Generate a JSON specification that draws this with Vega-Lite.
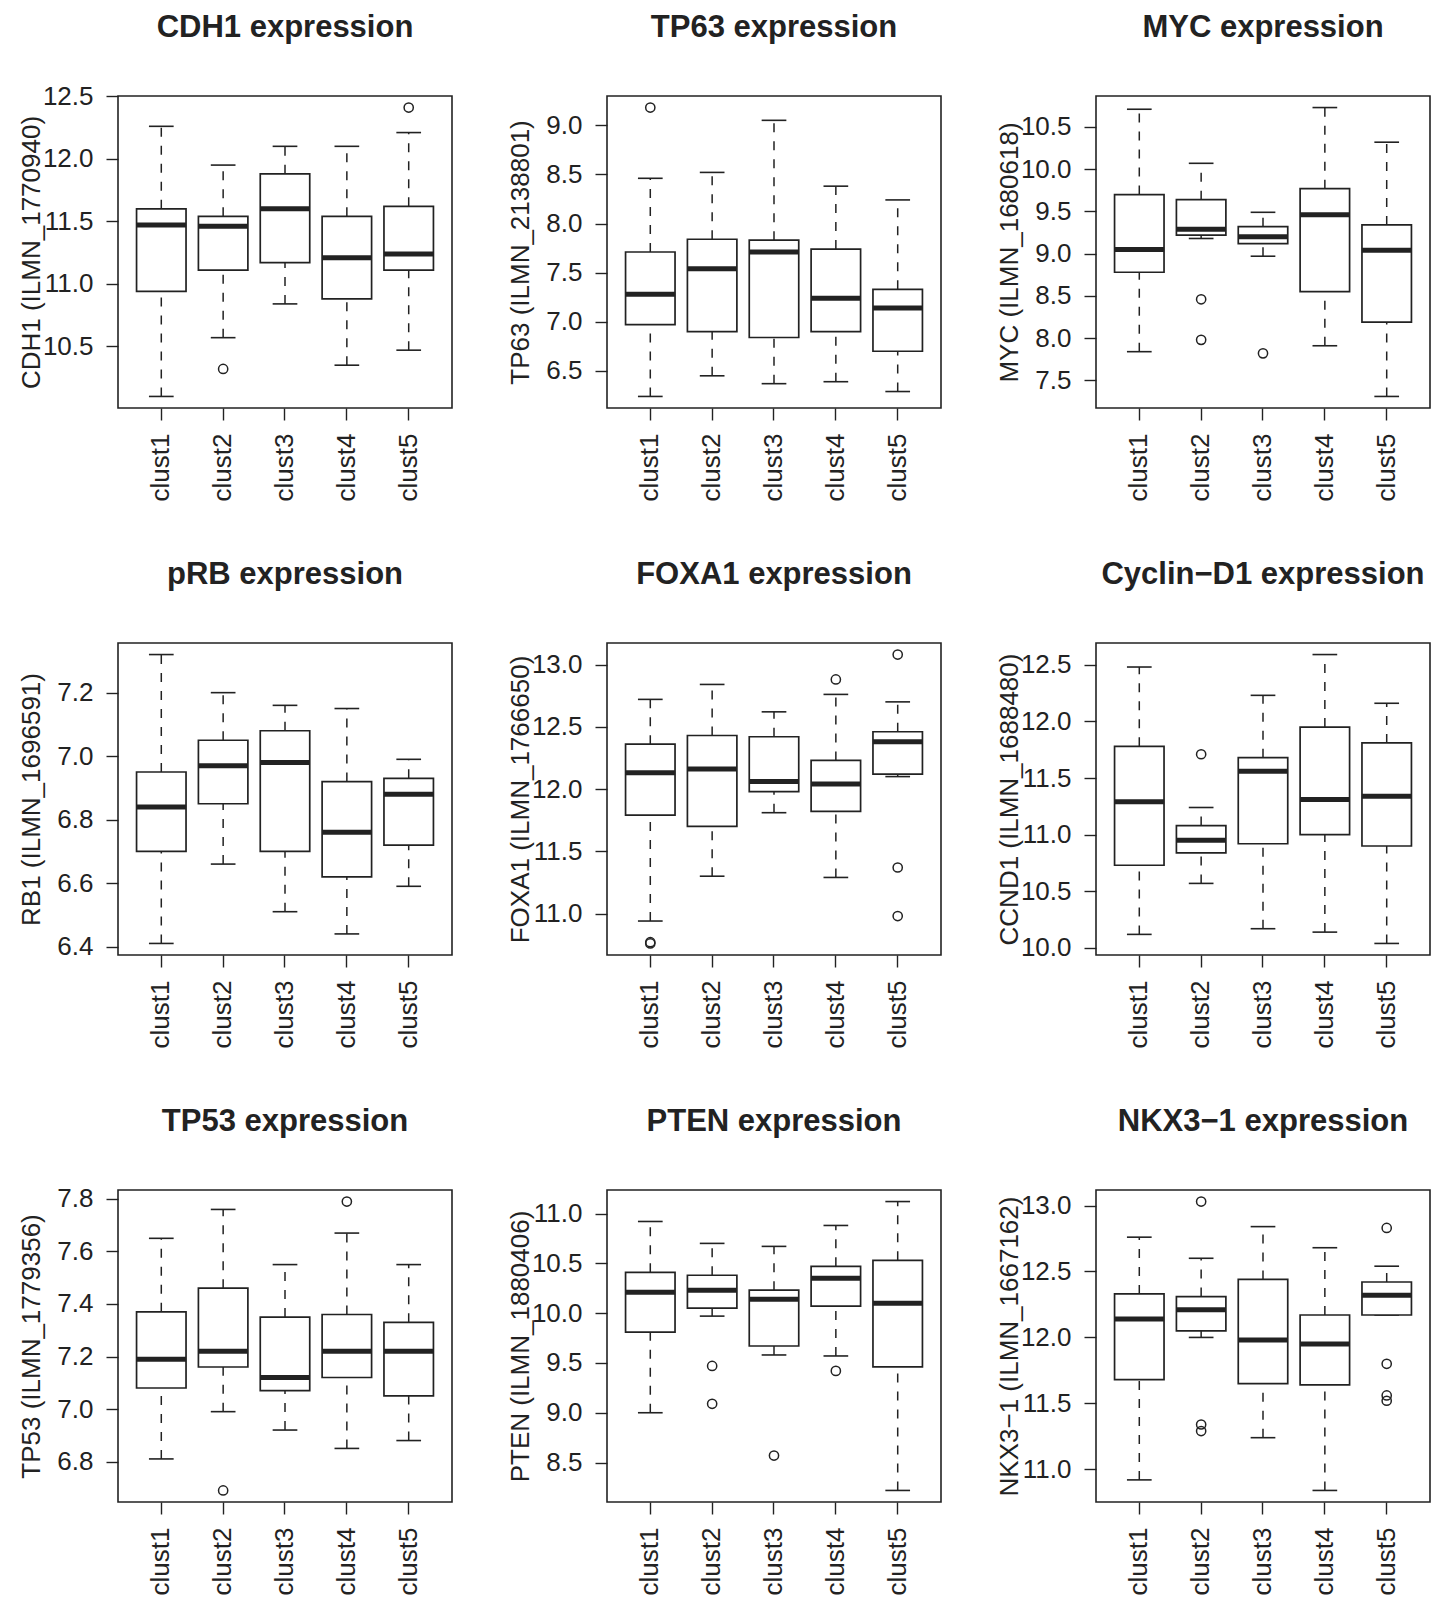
{
  "$schema": "https://vega.github.io/schema/vega-lite/v6.json",
  "background": "white",
  "padding": {"left": 17, "top": 11, "right": 5, "bottom": 0},
  "datasets": {
    "boxes": [
      {"gene": "CDH1", "cluster": "clust1", "lo": 10.10, "q1": 10.94, "med": 11.47, "q3": 11.60, "hi": 12.26},
      {"gene": "CDH1", "cluster": "clust2", "lo": 10.57, "q1": 11.11, "med": 11.46, "q3": 11.54, "hi": 11.95},
      {"gene": "CDH1", "cluster": "clust3", "lo": 10.84, "q1": 11.17, "med": 11.60, "q3": 11.88, "hi": 12.10},
      {"gene": "CDH1", "cluster": "clust4", "lo": 10.35, "q1": 10.88, "med": 11.21, "q3": 11.54, "hi": 12.10},
      {"gene": "CDH1", "cluster": "clust5", "lo": 10.47, "q1": 11.11, "med": 11.24, "q3": 11.62, "hi": 12.21},
      {"gene": "TP63", "cluster": "clust1", "lo": 6.24, "q1": 6.97, "med": 7.28, "q3": 7.71, "hi": 8.46},
      {"gene": "TP63", "cluster": "clust2", "lo": 6.45, "q1": 6.90, "med": 7.54, "q3": 7.84, "hi": 8.52},
      {"gene": "TP63", "cluster": "clust3", "lo": 6.37, "q1": 6.84, "med": 7.71, "q3": 7.83, "hi": 9.05},
      {"gene": "TP63", "cluster": "clust4", "lo": 6.39, "q1": 6.90, "med": 7.24, "q3": 7.74, "hi": 8.38},
      {"gene": "TP63", "cluster": "clust5", "lo": 6.29, "q1": 6.70, "med": 7.14, "q3": 7.33, "hi": 8.24},
      {"gene": "MYC", "cluster": "clust1", "lo": 7.84, "q1": 8.78, "med": 9.05, "q3": 9.70, "hi": 10.71},
      {"gene": "MYC", "cluster": "clust2", "lo": 9.18, "q1": 9.22, "med": 9.29, "q3": 9.64, "hi": 10.07},
      {"gene": "MYC", "cluster": "clust3", "lo": 8.97, "q1": 9.12, "med": 9.20, "q3": 9.32, "hi": 9.49},
      {"gene": "MYC", "cluster": "clust4", "lo": 7.91, "q1": 8.55, "med": 9.46, "q3": 9.77, "hi": 10.73},
      {"gene": "MYC", "cluster": "clust5", "lo": 7.31, "q1": 8.19, "med": 9.04, "q3": 9.34, "hi": 10.32},
      {"gene": "RB1", "cluster": "clust1", "lo": 6.41, "q1": 6.70, "med": 6.84, "q3": 6.95, "hi": 7.32},
      {"gene": "RB1", "cluster": "clust2", "lo": 6.66, "q1": 6.85, "med": 6.97, "q3": 7.05, "hi": 7.20},
      {"gene": "RB1", "cluster": "clust3", "lo": 6.51, "q1": 6.70, "med": 6.98, "q3": 7.08, "hi": 7.16},
      {"gene": "RB1", "cluster": "clust4", "lo": 6.44, "q1": 6.62, "med": 6.76, "q3": 6.92, "hi": 7.15},
      {"gene": "RB1", "cluster": "clust5", "lo": 6.59, "q1": 6.72, "med": 6.88, "q3": 6.93, "hi": 6.99},
      {"gene": "FOXA1", "cluster": "clust1", "lo": 10.94, "q1": 11.79, "med": 12.13, "q3": 12.36, "hi": 12.72},
      {"gene": "FOXA1", "cluster": "clust2", "lo": 11.30, "q1": 11.70, "med": 12.16, "q3": 12.43, "hi": 12.84},
      {"gene": "FOXA1", "cluster": "clust3", "lo": 11.81, "q1": 11.98, "med": 12.06, "q3": 12.42, "hi": 12.62},
      {"gene": "FOXA1", "cluster": "clust4", "lo": 11.29, "q1": 11.82, "med": 12.04, "q3": 12.23, "hi": 12.76},
      {"gene": "FOXA1", "cluster": "clust5", "lo": 12.10, "q1": 12.12, "med": 12.38, "q3": 12.46, "hi": 12.70},
      {"gene": "CCND1", "cluster": "clust1", "lo": 10.12, "q1": 10.73, "med": 11.29, "q3": 11.78, "hi": 12.48},
      {"gene": "CCND1", "cluster": "clust2", "lo": 10.57, "q1": 10.84, "med": 10.95, "q3": 11.08, "hi": 11.24},
      {"gene": "CCND1", "cluster": "clust3", "lo": 10.17, "q1": 10.92, "med": 11.56, "q3": 11.68, "hi": 12.23},
      {"gene": "CCND1", "cluster": "clust4", "lo": 10.14, "q1": 11.00, "med": 11.31, "q3": 11.95, "hi": 12.59},
      {"gene": "CCND1", "cluster": "clust5", "lo": 10.04, "q1": 10.90, "med": 11.34, "q3": 11.81, "hi": 12.16},
      {"gene": "TP53", "cluster": "clust1", "lo": 6.81, "q1": 7.08, "med": 7.19, "q3": 7.37, "hi": 7.65},
      {"gene": "TP53", "cluster": "clust2", "lo": 6.99, "q1": 7.16, "med": 7.22, "q3": 7.46, "hi": 7.76},
      {"gene": "TP53", "cluster": "clust3", "lo": 6.92, "q1": 7.07, "med": 7.12, "q3": 7.35, "hi": 7.55},
      {"gene": "TP53", "cluster": "clust4", "lo": 6.85, "q1": 7.12, "med": 7.22, "q3": 7.36, "hi": 7.67},
      {"gene": "TP53", "cluster": "clust5", "lo": 6.88, "q1": 7.05, "med": 7.22, "q3": 7.33, "hi": 7.55},
      {"gene": "PTEN", "cluster": "clust1", "lo": 9.00, "q1": 9.81, "med": 10.21, "q3": 10.41, "hi": 10.92},
      {"gene": "PTEN", "cluster": "clust2", "lo": 9.97, "q1": 10.05, "med": 10.23, "q3": 10.38, "hi": 10.70},
      {"gene": "PTEN", "cluster": "clust3", "lo": 9.58, "q1": 9.67, "med": 10.14, "q3": 10.23, "hi": 10.67},
      {"gene": "PTEN", "cluster": "clust4", "lo": 9.57, "q1": 10.07, "med": 10.35, "q3": 10.47, "hi": 10.88},
      {"gene": "PTEN", "cluster": "clust5", "lo": 8.22, "q1": 9.46, "med": 10.10, "q3": 10.53, "hi": 11.12},
      {"gene": "NKX3-1", "cluster": "clust1", "lo": 10.92, "q1": 11.68, "med": 12.14, "q3": 12.33, "hi": 12.76},
      {"gene": "NKX3-1", "cluster": "clust2", "lo": 12.00, "q1": 12.05, "med": 12.21, "q3": 12.31, "hi": 12.60},
      {"gene": "NKX3-1", "cluster": "clust3", "lo": 11.24, "q1": 11.65, "med": 11.98, "q3": 12.44, "hi": 12.84},
      {"gene": "NKX3-1", "cluster": "clust4", "lo": 10.84, "q1": 11.64, "med": 11.95, "q3": 12.17, "hi": 12.68},
      {"gene": "NKX3-1", "cluster": "clust5", "lo": 12.17, "q1": 12.17, "med": 12.32, "q3": 12.42, "hi": 12.54}
    ],
    "outliers": [
      {"gene": "CDH1", "cluster": "clust2", "value": 10.32},
      {"gene": "CDH1", "cluster": "clust5", "value": 12.41},
      {"gene": "TP63", "cluster": "clust1", "value": 9.18},
      {"gene": "MYC", "cluster": "clust2", "value": 8.46},
      {"gene": "MYC", "cluster": "clust2", "value": 7.98},
      {"gene": "MYC", "cluster": "clust3", "value": 7.82},
      {"gene": "FOXA1", "cluster": "clust1", "value": 10.77},
      {"gene": "FOXA1", "cluster": "clust1", "value": 10.76},
      {"gene": "FOXA1", "cluster": "clust4", "value": 12.88},
      {"gene": "FOXA1", "cluster": "clust5", "value": 13.08},
      {"gene": "FOXA1", "cluster": "clust5", "value": 11.37},
      {"gene": "FOXA1", "cluster": "clust5", "value": 10.98},
      {"gene": "CCND1", "cluster": "clust2", "value": 11.71},
      {"gene": "TP53", "cluster": "clust2", "value": 6.69},
      {"gene": "TP53", "cluster": "clust4", "value": 7.79},
      {"gene": "PTEN", "cluster": "clust2", "value": 9.47},
      {"gene": "PTEN", "cluster": "clust2", "value": 9.09},
      {"gene": "PTEN", "cluster": "clust3", "value": 8.57},
      {"gene": "PTEN", "cluster": "clust4", "value": 9.42},
      {"gene": "NKX3-1", "cluster": "clust2", "value": 13.03},
      {"gene": "NKX3-1", "cluster": "clust2", "value": 11.34},
      {"gene": "NKX3-1", "cluster": "clust2", "value": 11.29},
      {"gene": "NKX3-1", "cluster": "clust5", "value": 12.83},
      {"gene": "NKX3-1", "cluster": "clust5", "value": 11.80},
      {"gene": "NKX3-1", "cluster": "clust5", "value": 11.56},
      {"gene": "NKX3-1", "cluster": "clust5", "value": 11.52}
    ]
  },
  "columns": 3,
  "spacing": {"row": 56, "column": 53},
  "concat": [
    {
      "title": {"text": "CDH1 expression", "offset": 39},
      "width": 334, "height": 312,
      "data": {"name": "boxes"},
      "transform": [{"filter": "datum.gene === 'CDH1'"}],
      "encoding": {"x": {"field": "cluster", "type": "nominal", "scale": {"type": "band", "domain": ["clust1", "clust2", "clust3", "clust4", "clust5"], "paddingInner": 0.2, "paddingOuter": 0.3}, "axis": {"title": null}}},
      "layer": [
        {"mark": {"type": "rule", "strokeDash": [9, 9], "strokeWidth": 1.5, "color": "#222"},
         "encoding": {"y": {"field": "lo", "type": "quantitative", "scale": {"zero": false, "nice": false, "padding": 11.556}, "axis": {"title": "CDH1 (ILMN_1770940)", "values": [10.5, 11, 11.5, 12, 12.5], "format": ".1f"}}, "y2": {"field": "q1"}}},
        {"mark": {"type": "rule", "strokeDash": [9, 9], "strokeWidth": 1.5, "color": "#222"},
         "encoding": {"y": {"field": "q3", "type": "quantitative", "scale": {"zero": false, "nice": false, "padding": 11.556}, "axis": {"title": "CDH1 (ILMN_1770940)", "values": [10.5, 11, 11.5, 12, 12.5], "format": ".1f"}}, "y2": {"field": "hi"}}},
        {"transform": [{"fold": ["lo", "hi"], "as": ["end", "val"]}],
         "mark": {"type": "tick", "size": 24.7, "thickness": 1.6, "color": "#222", "opacity": 1},
         "encoding": {"y": {"field": "val", "type": "quantitative", "scale": {"zero": false, "nice": false, "padding": 11.556}, "axis": {"title": "CDH1 (ILMN_1770940)", "values": [10.5, 11, 11.5, 12, 12.5], "format": ".1f"}}}},
        {"mark": {"type": "bar", "fill": "white", "stroke": "#222", "strokeWidth": 1.7, "opacity": 1},
         "encoding": {"y": {"field": "q1", "type": "quantitative", "scale": {"zero": false, "nice": false, "padding": 11.556}, "axis": {"title": "CDH1 (ILMN_1770940)", "values": [10.5, 11, 11.5, 12, 12.5], "format": ".1f"}}, "y2": {"field": "q3"}}},
        {"mark": {"type": "tick", "size": 49.5, "thickness": 5, "color": "#222", "opacity": 1},
         "encoding": {"y": {"field": "med", "type": "quantitative", "scale": {"zero": false, "nice": false, "padding": 11.556}, "axis": {"title": "CDH1 (ILMN_1770940)", "values": [10.5, 11, 11.5, 12, 12.5], "format": ".1f"}}}},
        {"data": {"name": "outliers"}, "transform": [{"filter": "datum.gene === 'CDH1'"}],
         "mark": {"type": "point", "shape": "circle", "filled": false, "size": 85, "strokeWidth": 1.5, "color": "#222", "opacity": 1},
         "encoding": {"y": {"field": "value", "type": "quantitative", "scale": {"zero": false, "nice": false, "padding": 11.556}, "axis": {"title": "CDH1 (ILMN_1770940)", "values": [10.5, 11, 11.5, 12, 12.5], "format": ".1f"}}}}
      ]
    },
    {
      "title": {"text": "TP63 expression", "offset": 52},
      "width": 334, "height": 312,
      "data": {"name": "boxes"},
      "transform": [{"filter": "datum.gene === 'TP63'"}],
      "encoding": {"x": {"field": "cluster", "type": "nominal", "scale": {"type": "band", "domain": ["clust1", "clust2", "clust3", "clust4", "clust5"], "paddingInner": 0.2, "paddingOuter": 0.3}, "axis": {"title": null}}},
      "layer": [
        {"mark": {"type": "rule", "strokeDash": [9, 9], "strokeWidth": 1.5, "color": "#222"},
         "encoding": {"y": {"field": "lo", "type": "quantitative", "scale": {"zero": false, "nice": false, "padding": 11.556}, "axis": {"title": "TP63 (ILMN_2138801)", "values": [6.5, 7, 7.5, 8, 8.5, 9], "format": ".1f"}}, "y2": {"field": "q1"}}},
        {"mark": {"type": "rule", "strokeDash": [9, 9], "strokeWidth": 1.5, "color": "#222"},
         "encoding": {"y": {"field": "q3", "type": "quantitative", "scale": {"zero": false, "nice": false, "padding": 11.556}, "axis": {"title": "TP63 (ILMN_2138801)", "values": [6.5, 7, 7.5, 8, 8.5, 9], "format": ".1f"}}, "y2": {"field": "hi"}}},
        {"transform": [{"fold": ["lo", "hi"], "as": ["end", "val"]}],
         "mark": {"type": "tick", "size": 24.7, "thickness": 1.6, "color": "#222", "opacity": 1},
         "encoding": {"y": {"field": "val", "type": "quantitative", "scale": {"zero": false, "nice": false, "padding": 11.556}, "axis": {"title": "TP63 (ILMN_2138801)", "values": [6.5, 7, 7.5, 8, 8.5, 9], "format": ".1f"}}}},
        {"mark": {"type": "bar", "fill": "white", "stroke": "#222", "strokeWidth": 1.7, "opacity": 1},
         "encoding": {"y": {"field": "q1", "type": "quantitative", "scale": {"zero": false, "nice": false, "padding": 11.556}, "axis": {"title": "TP63 (ILMN_2138801)", "values": [6.5, 7, 7.5, 8, 8.5, 9], "format": ".1f"}}, "y2": {"field": "q3"}}},
        {"mark": {"type": "tick", "size": 49.5, "thickness": 5, "color": "#222", "opacity": 1},
         "encoding": {"y": {"field": "med", "type": "quantitative", "scale": {"zero": false, "nice": false, "padding": 11.556}, "axis": {"title": "TP63 (ILMN_2138801)", "values": [6.5, 7, 7.5, 8, 8.5, 9], "format": ".1f"}}}},
        {"data": {"name": "outliers"}, "transform": [{"filter": "datum.gene === 'TP63'"}],
         "mark": {"type": "point", "shape": "circle", "filled": false, "size": 85, "strokeWidth": 1.5, "color": "#222", "opacity": 1},
         "encoding": {"y": {"field": "value", "type": "quantitative", "scale": {"zero": false, "nice": false, "padding": 11.556}, "axis": {"title": "TP63 (ILMN_2138801)", "values": [6.5, 7, 7.5, 8, 8.5, 9], "format": ".1f"}}}}
      ]
    },
    {
      "title": {"text": "MYC expression", "offset": 52},
      "width": 334, "height": 312,
      "data": {"name": "boxes"},
      "transform": [{"filter": "datum.gene === 'MYC'"}],
      "encoding": {"x": {"field": "cluster", "type": "nominal", "scale": {"type": "band", "domain": ["clust1", "clust2", "clust3", "clust4", "clust5"], "paddingInner": 0.2, "paddingOuter": 0.3}, "axis": {"title": null}}},
      "layer": [
        {"mark": {"type": "rule", "strokeDash": [9, 9], "strokeWidth": 1.5, "color": "#222"},
         "encoding": {"y": {"field": "lo", "type": "quantitative", "scale": {"zero": false, "nice": false, "padding": 11.556}, "axis": {"title": "MYC (ILMN_1680618)", "values": [7.5, 8, 8.5, 9, 9.5, 10, 10.5], "format": ".1f"}}, "y2": {"field": "q1"}}},
        {"mark": {"type": "rule", "strokeDash": [9, 9], "strokeWidth": 1.5, "color": "#222"},
         "encoding": {"y": {"field": "q3", "type": "quantitative", "scale": {"zero": false, "nice": false, "padding": 11.556}, "axis": {"title": "MYC (ILMN_1680618)", "values": [7.5, 8, 8.5, 9, 9.5, 10, 10.5], "format": ".1f"}}, "y2": {"field": "hi"}}},
        {"transform": [{"fold": ["lo", "hi"], "as": ["end", "val"]}],
         "mark": {"type": "tick", "size": 24.7, "thickness": 1.6, "color": "#222", "opacity": 1},
         "encoding": {"y": {"field": "val", "type": "quantitative", "scale": {"zero": false, "nice": false, "padding": 11.556}, "axis": {"title": "MYC (ILMN_1680618)", "values": [7.5, 8, 8.5, 9, 9.5, 10, 10.5], "format": ".1f"}}}},
        {"mark": {"type": "bar", "fill": "white", "stroke": "#222", "strokeWidth": 1.7, "opacity": 1},
         "encoding": {"y": {"field": "q1", "type": "quantitative", "scale": {"zero": false, "nice": false, "padding": 11.556}, "axis": {"title": "MYC (ILMN_1680618)", "values": [7.5, 8, 8.5, 9, 9.5, 10, 10.5], "format": ".1f"}}, "y2": {"field": "q3"}}},
        {"mark": {"type": "tick", "size": 49.5, "thickness": 5, "color": "#222", "opacity": 1},
         "encoding": {"y": {"field": "med", "type": "quantitative", "scale": {"zero": false, "nice": false, "padding": 11.556}, "axis": {"title": "MYC (ILMN_1680618)", "values": [7.5, 8, 8.5, 9, 9.5, 10, 10.5], "format": ".1f"}}}},
        {"data": {"name": "outliers"}, "transform": [{"filter": "datum.gene === 'MYC'"}],
         "mark": {"type": "point", "shape": "circle", "filled": false, "size": 85, "strokeWidth": 1.5, "color": "#222", "opacity": 1},
         "encoding": {"y": {"field": "value", "type": "quantitative", "scale": {"zero": false, "nice": false, "padding": 11.556}, "axis": {"title": "MYC (ILMN_1680618)", "values": [7.5, 8, 8.5, 9, 9.5, 10, 10.5], "format": ".1f"}}}}
      ]
    },
    {
      "title": {"text": "pRB expression", "offset": 52},
      "width": 334, "height": 312,
      "data": {"name": "boxes"},
      "transform": [{"filter": "datum.gene === 'RB1'"}],
      "encoding": {"x": {"field": "cluster", "type": "nominal", "scale": {"type": "band", "domain": ["clust1", "clust2", "clust3", "clust4", "clust5"], "paddingInner": 0.2, "paddingOuter": 0.3}, "axis": {"title": null}}},
      "layer": [
        {"mark": {"type": "rule", "strokeDash": [9, 9], "strokeWidth": 1.5, "color": "#222"},
         "encoding": {"y": {"field": "lo", "type": "quantitative", "scale": {"zero": false, "nice": false, "padding": 11.556}, "axis": {"title": "RB1 (ILMN_1696591)", "values": [6.4, 6.6, 6.8, 7, 7.2], "format": ".1f"}}, "y2": {"field": "q1"}}},
        {"mark": {"type": "rule", "strokeDash": [9, 9], "strokeWidth": 1.5, "color": "#222"},
         "encoding": {"y": {"field": "q3", "type": "quantitative", "scale": {"zero": false, "nice": false, "padding": 11.556}, "axis": {"title": "RB1 (ILMN_1696591)", "values": [6.4, 6.6, 6.8, 7, 7.2], "format": ".1f"}}, "y2": {"field": "hi"}}},
        {"transform": [{"fold": ["lo", "hi"], "as": ["end", "val"]}],
         "mark": {"type": "tick", "size": 24.7, "thickness": 1.6, "color": "#222", "opacity": 1},
         "encoding": {"y": {"field": "val", "type": "quantitative", "scale": {"zero": false, "nice": false, "padding": 11.556}, "axis": {"title": "RB1 (ILMN_1696591)", "values": [6.4, 6.6, 6.8, 7, 7.2], "format": ".1f"}}}},
        {"mark": {"type": "bar", "fill": "white", "stroke": "#222", "strokeWidth": 1.7, "opacity": 1},
         "encoding": {"y": {"field": "q1", "type": "quantitative", "scale": {"zero": false, "nice": false, "padding": 11.556}, "axis": {"title": "RB1 (ILMN_1696591)", "values": [6.4, 6.6, 6.8, 7, 7.2], "format": ".1f"}}, "y2": {"field": "q3"}}},
        {"mark": {"type": "tick", "size": 49.5, "thickness": 5, "color": "#222", "opacity": 1},
         "encoding": {"y": {"field": "med", "type": "quantitative", "scale": {"zero": false, "nice": false, "padding": 11.556}, "axis": {"title": "RB1 (ILMN_1696591)", "values": [6.4, 6.6, 6.8, 7, 7.2], "format": ".1f"}}}}
      ]
    },
    {
      "title": {"text": "FOXA1 expression", "offset": 52},
      "width": 334, "height": 312,
      "data": {"name": "boxes"},
      "transform": [{"filter": "datum.gene === 'FOXA1'"}],
      "encoding": {"x": {"field": "cluster", "type": "nominal", "scale": {"type": "band", "domain": ["clust1", "clust2", "clust3", "clust4", "clust5"], "paddingInner": 0.2, "paddingOuter": 0.3}, "axis": {"title": null}}},
      "layer": [
        {"mark": {"type": "rule", "strokeDash": [9, 9], "strokeWidth": 1.5, "color": "#222"},
         "encoding": {"y": {"field": "lo", "type": "quantitative", "scale": {"zero": false, "nice": false, "padding": 11.556}, "axis": {"title": "FOXA1 (ILMN_1766650)", "values": [11, 11.5, 12, 12.5, 13], "format": ".1f"}}, "y2": {"field": "q1"}}},
        {"mark": {"type": "rule", "strokeDash": [9, 9], "strokeWidth": 1.5, "color": "#222"},
         "encoding": {"y": {"field": "q3", "type": "quantitative", "scale": {"zero": false, "nice": false, "padding": 11.556}, "axis": {"title": "FOXA1 (ILMN_1766650)", "values": [11, 11.5, 12, 12.5, 13], "format": ".1f"}}, "y2": {"field": "hi"}}},
        {"transform": [{"fold": ["lo", "hi"], "as": ["end", "val"]}],
         "mark": {"type": "tick", "size": 24.7, "thickness": 1.6, "color": "#222", "opacity": 1},
         "encoding": {"y": {"field": "val", "type": "quantitative", "scale": {"zero": false, "nice": false, "padding": 11.556}, "axis": {"title": "FOXA1 (ILMN_1766650)", "values": [11, 11.5, 12, 12.5, 13], "format": ".1f"}}}},
        {"mark": {"type": "bar", "fill": "white", "stroke": "#222", "strokeWidth": 1.7, "opacity": 1},
         "encoding": {"y": {"field": "q1", "type": "quantitative", "scale": {"zero": false, "nice": false, "padding": 11.556}, "axis": {"title": "FOXA1 (ILMN_1766650)", "values": [11, 11.5, 12, 12.5, 13], "format": ".1f"}}, "y2": {"field": "q3"}}},
        {"mark": {"type": "tick", "size": 49.5, "thickness": 5, "color": "#222", "opacity": 1},
         "encoding": {"y": {"field": "med", "type": "quantitative", "scale": {"zero": false, "nice": false, "padding": 11.556}, "axis": {"title": "FOXA1 (ILMN_1766650)", "values": [11, 11.5, 12, 12.5, 13], "format": ".1f"}}}},
        {"data": {"name": "outliers"}, "transform": [{"filter": "datum.gene === 'FOXA1'"}],
         "mark": {"type": "point", "shape": "circle", "filled": false, "size": 85, "strokeWidth": 1.5, "color": "#222", "opacity": 1},
         "encoding": {"y": {"field": "value", "type": "quantitative", "scale": {"zero": false, "nice": false, "padding": 11.556}, "axis": {"title": "FOXA1 (ILMN_1766650)", "values": [11, 11.5, 12, 12.5, 13], "format": ".1f"}}}}
      ]
    },
    {
      "title": {"text": "Cyclin−D1 expression", "offset": 52},
      "width": 334, "height": 312,
      "data": {"name": "boxes"},
      "transform": [{"filter": "datum.gene === 'CCND1'"}],
      "encoding": {"x": {"field": "cluster", "type": "nominal", "scale": {"type": "band", "domain": ["clust1", "clust2", "clust3", "clust4", "clust5"], "paddingInner": 0.2, "paddingOuter": 0.3}, "axis": {"title": null}}},
      "layer": [
        {"mark": {"type": "rule", "strokeDash": [9, 9], "strokeWidth": 1.5, "color": "#222"},
         "encoding": {"y": {"field": "lo", "type": "quantitative", "scale": {"zero": false, "nice": false, "padding": 11.556}, "axis": {"title": "CCND1 (ILMN_1688480)", "values": [10, 10.5, 11, 11.5, 12, 12.5], "format": ".1f"}}, "y2": {"field": "q1"}}},
        {"mark": {"type": "rule", "strokeDash": [9, 9], "strokeWidth": 1.5, "color": "#222"},
         "encoding": {"y": {"field": "q3", "type": "quantitative", "scale": {"zero": false, "nice": false, "padding": 11.556}, "axis": {"title": "CCND1 (ILMN_1688480)", "values": [10, 10.5, 11, 11.5, 12, 12.5], "format": ".1f"}}, "y2": {"field": "hi"}}},
        {"transform": [{"fold": ["lo", "hi"], "as": ["end", "val"]}],
         "mark": {"type": "tick", "size": 24.7, "thickness": 1.6, "color": "#222", "opacity": 1},
         "encoding": {"y": {"field": "val", "type": "quantitative", "scale": {"zero": false, "nice": false, "padding": 11.556}, "axis": {"title": "CCND1 (ILMN_1688480)", "values": [10, 10.5, 11, 11.5, 12, 12.5], "format": ".1f"}}}},
        {"mark": {"type": "bar", "fill": "white", "stroke": "#222", "strokeWidth": 1.7, "opacity": 1},
         "encoding": {"y": {"field": "q1", "type": "quantitative", "scale": {"zero": false, "nice": false, "padding": 11.556}, "axis": {"title": "CCND1 (ILMN_1688480)", "values": [10, 10.5, 11, 11.5, 12, 12.5], "format": ".1f"}}, "y2": {"field": "q3"}}},
        {"mark": {"type": "tick", "size": 49.5, "thickness": 5, "color": "#222", "opacity": 1},
         "encoding": {"y": {"field": "med", "type": "quantitative", "scale": {"zero": false, "nice": false, "padding": 11.556}, "axis": {"title": "CCND1 (ILMN_1688480)", "values": [10, 10.5, 11, 11.5, 12, 12.5], "format": ".1f"}}}},
        {"data": {"name": "outliers"}, "transform": [{"filter": "datum.gene === 'CCND1'"}],
         "mark": {"type": "point", "shape": "circle", "filled": false, "size": 85, "strokeWidth": 1.5, "color": "#222", "opacity": 1},
         "encoding": {"y": {"field": "value", "type": "quantitative", "scale": {"zero": false, "nice": false, "padding": 11.556}, "axis": {"title": "CCND1 (ILMN_1688480)", "values": [10, 10.5, 11, 11.5, 12, 12.5], "format": ".1f"}}}}
      ]
    },
    {
      "title": {"text": "TP53 expression", "offset": 48},
      "width": 334, "height": 312,
      "data": {"name": "boxes"},
      "transform": [{"filter": "datum.gene === 'TP53'"}],
      "encoding": {"x": {"field": "cluster", "type": "nominal", "scale": {"type": "band", "domain": ["clust1", "clust2", "clust3", "clust4", "clust5"], "paddingInner": 0.2, "paddingOuter": 0.3}, "axis": {"title": null}}},
      "layer": [
        {"mark": {"type": "rule", "strokeDash": [9, 9], "strokeWidth": 1.5, "color": "#222"},
         "encoding": {"y": {"field": "lo", "type": "quantitative", "scale": {"zero": false, "nice": false, "padding": 11.556}, "axis": {"title": "TP53 (ILMN_1779356)", "values": [6.8, 7, 7.2, 7.4, 7.6, 7.8], "format": ".1f"}}, "y2": {"field": "q1"}}},
        {"mark": {"type": "rule", "strokeDash": [9, 9], "strokeWidth": 1.5, "color": "#222"},
         "encoding": {"y": {"field": "q3", "type": "quantitative", "scale": {"zero": false, "nice": false, "padding": 11.556}, "axis": {"title": "TP53 (ILMN_1779356)", "values": [6.8, 7, 7.2, 7.4, 7.6, 7.8], "format": ".1f"}}, "y2": {"field": "hi"}}},
        {"transform": [{"fold": ["lo", "hi"], "as": ["end", "val"]}],
         "mark": {"type": "tick", "size": 24.7, "thickness": 1.6, "color": "#222", "opacity": 1},
         "encoding": {"y": {"field": "val", "type": "quantitative", "scale": {"zero": false, "nice": false, "padding": 11.556}, "axis": {"title": "TP53 (ILMN_1779356)", "values": [6.8, 7, 7.2, 7.4, 7.6, 7.8], "format": ".1f"}}}},
        {"mark": {"type": "bar", "fill": "white", "stroke": "#222", "strokeWidth": 1.7, "opacity": 1},
         "encoding": {"y": {"field": "q1", "type": "quantitative", "scale": {"zero": false, "nice": false, "padding": 11.556}, "axis": {"title": "TP53 (ILMN_1779356)", "values": [6.8, 7, 7.2, 7.4, 7.6, 7.8], "format": ".1f"}}, "y2": {"field": "q3"}}},
        {"mark": {"type": "tick", "size": 49.5, "thickness": 5, "color": "#222", "opacity": 1},
         "encoding": {"y": {"field": "med", "type": "quantitative", "scale": {"zero": false, "nice": false, "padding": 11.556}, "axis": {"title": "TP53 (ILMN_1779356)", "values": [6.8, 7, 7.2, 7.4, 7.6, 7.8], "format": ".1f"}}}},
        {"data": {"name": "outliers"}, "transform": [{"filter": "datum.gene === 'TP53'"}],
         "mark": {"type": "point", "shape": "circle", "filled": false, "size": 85, "strokeWidth": 1.5, "color": "#222", "opacity": 1},
         "encoding": {"y": {"field": "value", "type": "quantitative", "scale": {"zero": false, "nice": false, "padding": 11.556}, "axis": {"title": "TP53 (ILMN_1779356)", "values": [6.8, 7, 7.2, 7.4, 7.6, 7.8], "format": ".1f"}}}}
      ]
    },
    {
      "title": {"text": "PTEN expression", "offset": 52},
      "width": 334, "height": 312,
      "data": {"name": "boxes"},
      "transform": [{"filter": "datum.gene === 'PTEN'"}],
      "encoding": {"x": {"field": "cluster", "type": "nominal", "scale": {"type": "band", "domain": ["clust1", "clust2", "clust3", "clust4", "clust5"], "paddingInner": 0.2, "paddingOuter": 0.3}, "axis": {"title": null}}},
      "layer": [
        {"mark": {"type": "rule", "strokeDash": [9, 9], "strokeWidth": 1.5, "color": "#222"},
         "encoding": {"y": {"field": "lo", "type": "quantitative", "scale": {"zero": false, "nice": false, "padding": 11.556}, "axis": {"title": "PTEN (ILMN_1880406)", "values": [8.5, 9, 9.5, 10, 10.5, 11], "format": ".1f"}}, "y2": {"field": "q1"}}},
        {"mark": {"type": "rule", "strokeDash": [9, 9], "strokeWidth": 1.5, "color": "#222"},
         "encoding": {"y": {"field": "q3", "type": "quantitative", "scale": {"zero": false, "nice": false, "padding": 11.556}, "axis": {"title": "PTEN (ILMN_1880406)", "values": [8.5, 9, 9.5, 10, 10.5, 11], "format": ".1f"}}, "y2": {"field": "hi"}}},
        {"transform": [{"fold": ["lo", "hi"], "as": ["end", "val"]}],
         "mark": {"type": "tick", "size": 24.7, "thickness": 1.6, "color": "#222", "opacity": 1},
         "encoding": {"y": {"field": "val", "type": "quantitative", "scale": {"zero": false, "nice": false, "padding": 11.556}, "axis": {"title": "PTEN (ILMN_1880406)", "values": [8.5, 9, 9.5, 10, 10.5, 11], "format": ".1f"}}}},
        {"mark": {"type": "bar", "fill": "white", "stroke": "#222", "strokeWidth": 1.7, "opacity": 1},
         "encoding": {"y": {"field": "q1", "type": "quantitative", "scale": {"zero": false, "nice": false, "padding": 11.556}, "axis": {"title": "PTEN (ILMN_1880406)", "values": [8.5, 9, 9.5, 10, 10.5, 11], "format": ".1f"}}, "y2": {"field": "q3"}}},
        {"mark": {"type": "tick", "size": 49.5, "thickness": 5, "color": "#222", "opacity": 1},
         "encoding": {"y": {"field": "med", "type": "quantitative", "scale": {"zero": false, "nice": false, "padding": 11.556}, "axis": {"title": "PTEN (ILMN_1880406)", "values": [8.5, 9, 9.5, 10, 10.5, 11], "format": ".1f"}}}},
        {"data": {"name": "outliers"}, "transform": [{"filter": "datum.gene === 'PTEN'"}],
         "mark": {"type": "point", "shape": "circle", "filled": false, "size": 85, "strokeWidth": 1.5, "color": "#222", "opacity": 1},
         "encoding": {"y": {"field": "value", "type": "quantitative", "scale": {"zero": false, "nice": false, "padding": 11.556}, "axis": {"title": "PTEN (ILMN_1880406)", "values": [8.5, 9, 9.5, 10, 10.5, 11], "format": ".1f"}}}}
      ]
    },
    {
      "title": {"text": "NKX3−1 expression", "offset": 52},
      "width": 334, "height": 312,
      "data": {"name": "boxes"},
      "transform": [{"filter": "datum.gene === 'NKX3-1'"}],
      "encoding": {"x": {"field": "cluster", "type": "nominal", "scale": {"type": "band", "domain": ["clust1", "clust2", "clust3", "clust4", "clust5"], "paddingInner": 0.2, "paddingOuter": 0.3}, "axis": {"title": null}}},
      "layer": [
        {"mark": {"type": "rule", "strokeDash": [9, 9], "strokeWidth": 1.5, "color": "#222"},
         "encoding": {"y": {"field": "lo", "type": "quantitative", "scale": {"zero": false, "nice": false, "padding": 11.556}, "axis": {"title": "NKX3−1 (ILMN_1667162)", "values": [11, 11.5, 12, 12.5, 13], "format": ".1f"}}, "y2": {"field": "q1"}}},
        {"mark": {"type": "rule", "strokeDash": [9, 9], "strokeWidth": 1.5, "color": "#222"},
         "encoding": {"y": {"field": "q3", "type": "quantitative", "scale": {"zero": false, "nice": false, "padding": 11.556}, "axis": {"title": "NKX3−1 (ILMN_1667162)", "values": [11, 11.5, 12, 12.5, 13], "format": ".1f"}}, "y2": {"field": "hi"}}},
        {"transform": [{"fold": ["lo", "hi"], "as": ["end", "val"]}],
         "mark": {"type": "tick", "size": 24.7, "thickness": 1.6, "color": "#222", "opacity": 1},
         "encoding": {"y": {"field": "val", "type": "quantitative", "scale": {"zero": false, "nice": false, "padding": 11.556}, "axis": {"title": "NKX3−1 (ILMN_1667162)", "values": [11, 11.5, 12, 12.5, 13], "format": ".1f"}}}},
        {"mark": {"type": "bar", "fill": "white", "stroke": "#222", "strokeWidth": 1.7, "opacity": 1},
         "encoding": {"y": {"field": "q1", "type": "quantitative", "scale": {"zero": false, "nice": false, "padding": 11.556}, "axis": {"title": "NKX3−1 (ILMN_1667162)", "values": [11, 11.5, 12, 12.5, 13], "format": ".1f"}}, "y2": {"field": "q3"}}},
        {"mark": {"type": "tick", "size": 49.5, "thickness": 5, "color": "#222", "opacity": 1},
         "encoding": {"y": {"field": "med", "type": "quantitative", "scale": {"zero": false, "nice": false, "padding": 11.556}, "axis": {"title": "NKX3−1 (ILMN_1667162)", "values": [11, 11.5, 12, 12.5, 13], "format": ".1f"}}}},
        {"data": {"name": "outliers"}, "transform": [{"filter": "datum.gene === 'NKX3-1'"}],
         "mark": {"type": "point", "shape": "circle", "filled": false, "size": 85, "strokeWidth": 1.5, "color": "#222", "opacity": 1},
         "encoding": {"y": {"field": "value", "type": "quantitative", "scale": {"zero": false, "nice": false, "padding": 11.556}, "axis": {"title": "NKX3−1 (ILMN_1667162)", "values": [11, 11.5, 12, 12.5, 13], "format": ".1f"}}}}
      ]
    }
  ],
  "config": {
    "font": "Liberation Sans",
    "view": {"stroke": "#222", "strokeWidth": 1.6},
    "title": {"font": "Liberation Sans", "fontSize": 31, "fontWeight": "bold", "color": "#222", "anchor": "middle", "frame": "group"},
    "axis": {
      "labelFont": "Liberation Sans", "labelFontSize": 26, "labelColor": "#222",
      "titleFont": "Liberation Sans", "titleFontSize": 26, "titleFontWeight": "normal", "titleColor": "#222",
      "tickColor": "#222", "tickWidth": 1.4, "tickSize": 12, "labelPadding": 13,
      "domain": false, "grid": false, "labelFlush": false, "labelOverlap": false, "labelBound": false
    },
    "axisX": {"labelAngle": 270},
    "axisY": {"labelAngle": 0, "titleAngle": 270, "titleX": -79, "titleY": 156, "titleAlign": "center", "titleBaseline": "alphabetic"}
  }
}
